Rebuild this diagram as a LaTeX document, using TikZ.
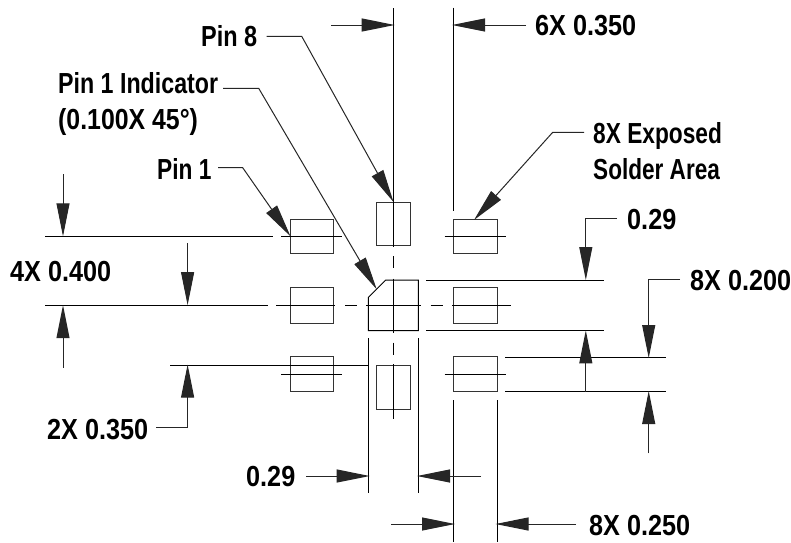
\documentclass[tikz,border=0pt]{standalone}
\usepackage{fontspec}
\setmainfont[BoldFont={Liberation Sans Bold},FakeStretch=0.87]{Liberation Sans}
\usetikzlibrary{arrows.meta}
\tikzset{
  lbl/.style={anchor=base west,inner sep=0pt,font=\fontsize{29}{30}\selectfont\bfseries},
  thin line/.style={line width=1pt,black},
  pad/.style={line width=1pt,draw=black!80},
  dim/.style={line width=1pt,black!85,-{Triangle[length=33pt,width=13pt]}},
  ldr/.style={line width=1pt,black!85,line join=miter,-{Triangle[length=33pt,width=13pt]}}
}
\begin{document}
\begin{tikzpicture}[x=1pt,y=-1pt]
\useasboundingbox (0,0) rectangle (791,542);
% labels
\node[lbl] (t6x) at (535,35) {6X 0.350};
\node[lbl] (tp8) at (201,46.7) {\scalebox{0.93}[1]{Pin 8}};
\node[lbl] (tind) at (58,93.3) {\scalebox{0.92}[1]{Pin 1 Indicator}};
\node[lbl] (tind2) at (58,129) {\scalebox{0.985}[1]{(0.100X 45°)}};
\node[lbl] (tp1) at (157,179) {\scalebox{0.9}[1]{Pin 1}};
\node[lbl] (t4x) at (10,281) {4X 0.400};
\node[lbl] (t2x) at (47,439) {2X 0.350};
\node[lbl] (t29l) at (246,486.7) {0.29};
\node[lbl] (tsol1) at (593,143.3) {\scalebox{0.9}[1]{8X Exposed}};
\node[lbl] (tsol2) at (593,179.3) {\scalebox{0.895}[1]{Solder Area}};
\node[lbl] (t29r) at (627,229) {0.29};
\node[lbl] (t8x2) at (690,290) {8X 0.200};
\node[lbl] (t8x25) at (589,535) {8X 0.250};
% pads
\foreach \xa/\ya/\xb/\yb in {290/219/333.3/253.7,290/287.7/333.3/323,290/356.7/333.3/391.7,
  453.5/219/497/253.7,453.5/287.7/497/323,453.5/356.7/497/391.7,
  376.3/202/410.7/245,376.3/365.7/410.7/409}
  \draw[pad] (\xa,\ya) rectangle (\xb,\yb);
% centre body
\draw[thin line,line join=miter] (385.7,280) -- (418.3,280) -- (418.3,330.5) -- (368.4,330.5) -- (368.4,297.3) -- cycle;
% centre lines horizontal
\foreach \xa/\xb/\y in {45/273/236.3,281/342/236.3,444.7/505.7/236.3,
  45/268/305.2,276/335/305.2,345/357/305.2,366.3/420.7/305.2,430.7/442.7/305.2,452.3/510.7/305.2,
  281/342/374,444.7/505.7/374}
  \draw[thin line] (\xa,\y) -- (\xb,\y);
% centre lines vertical
\foreach \ya/\yb in {8/247,256/268,278.7/332.7,342.7/354.7,364/419.3}
  \draw[thin line] (393.5,\ya) -- (393.5,\yb);
% extension lines
\draw[thin line] (453.4,7.5) -- (453.4,210.7);
\draw[thin line] (170,365.7) -- (368.4,365.7);
\draw[thin line] (368.4,338.3) -- (368.4,493.3);
\draw[thin line] (418.3,338.3) -- (418.3,493.3);
\draw[thin line] (426.3,280) -- (603.7,280);
\draw[thin line] (426.3,330.6) -- (603.7,330.6);
\draw[thin line] (505,357) -- (666,357);
\draw[thin line] (505,391.7) -- (666,391.7);
\draw[thin line] (453.7,400) -- (453.7,541.7);
\draw[thin line] (497,400) -- (497,541.7);
% leaders
\draw[ldr] (266.7,36.3) -- (301.7,36.3) -- (393.5,202);
\draw[ldr] (223,88.3) -- (258.7,88.3) -- (376.7,289.3);
\draw[ldr] (218,167.7) -- (242.7,167.7) -- (290.5,236.3);
\draw[ldr] (584,132.3) -- (552.7,132.3) -- (474,220);
% dimensions
\draw[dim] (331,25) -- (394.7,25);
\draw[dim] (526,25) -- (452,25);
\draw[dim] (63,174) -- (63,236.3);
\draw[dim] (63,367.7) -- (63,305.2);
\draw[dim] (187.6,243.3) -- (187.6,305.2);
\draw[dim] (156,427.7) -- (187.6,427.7) -- (187.6,364.5);
\draw[dim] (306,476) -- (369.7,476);
\draw[dim] (481,476) -- (417,476);
\draw[dim] (617,218.3) -- (585.8,218.3) -- (585.8,280);
\draw[dim] (585.8,392) -- (585.8,330.4);
\draw[dim] (680,279.3) -- (648.7,279.3) -- (648.7,358);
\draw[dim] (648.7,453.3) -- (648.7,391);
\draw[dim] (391,524) -- (455,524);
\draw[dim] (576,524) -- (495.5,524);
\end{tikzpicture}
\end{document}
